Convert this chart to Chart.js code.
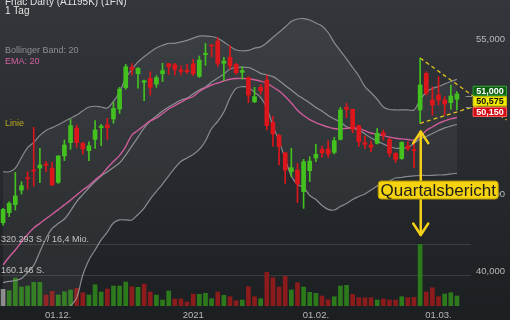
<!DOCTYPE html>
<html><head><meta charset="utf-8">
<script src="https://cdn.jsdelivr.net/npm/chart.js@4.4.1/dist/chart.umd.min.js"></script>
<style>html,body{margin:0;padding:0;background:#25282c;overflow:hidden}canvas{display:block}</style>
</head><body>
<canvas id="c" width="510" height="320"></canvas>
<script>
const dates = ['18.11.','19.11.','20.11.','23.11.','24.11.','25.11.','26.11.','27.11.','30.11.',
'01.12.','02.12.','03.12.','04.12.','07.12.','08.12.','09.12.','10.12.','11.12.','14.12.','15.12.','16.12.','17.12.','18.12.','21.12.','22.12.','23.12.','24.12.','28.12.','29.12.','30.12.','31.12.',
'04.01.','05.01.','06.01.','07.01.','08.01.','11.01.','12.01.','13.01.','14.01.','15.01.','18.01.','19.01.','20.01.','21.01.','22.01.','25.01.','26.01.','27.01.','28.01.','29.01.',
'01.02.','02.02.','03.02.','04.02.','05.02.','08.02.','09.02.','10.02.','11.02.','12.02.','15.02.','16.02.','17.02.','18.02.','19.02.','22.02.','23.02.','24.02.','25.02.','26.02.',
'01.03.','02.03.','03.03.','04.03.'];
const xTickIdx = [9, 31, 51, 71];
const xTickText = ['01.12.', '2021', '01.02.', '01.03.'];
const yTicks = [40, 45, 55];

const open  = [43.16,43.81,44.33,45.27,46.07,46.56,46.69,46.95,46.67,45.77,47.47,48.33,49.27,48.28,47.81,48.54,49.30,49.47,49.86,50.50,51.88,53.19,52.78,52.22,52.48,52.11,52.78,53.43,53.36,53.02,53.00,53.43,52.61,54.01,54.61,54.89,53.45,53.84,53.38,52.87,52.52,50.97,51.90,52.37,49.64,48.80,47.68,46.46,46.56,45.17,46.52,47.34,47.90,47.92,47.70,48.54,50.61,50.48,49.43,48.33,48.18,48.29,48.97,48.54,47.64,47.30,48.11,47.85,50.44,52.80,51.08,51.40,51.08,50.91,51.13];
const high  = [44.09,44.52,46.41,45.81,46.46,49.32,47.96,47.10,47.06,47.50,48.50,49.83,49.47,48.37,48.39,49.75,49.51,49.90,50.93,51.90,53.38,53.43,53.17,52.37,52.91,52.65,53.45,53.45,53.45,53.28,53.38,53.71,53.92,54.74,54.63,55.13,53.84,54.59,53.45,53.23,52.59,51.90,52.09,52.70,50.05,48.87,47.68,47.96,46.99,47.25,47.42,48.22,48.11,48.44,48.67,50.61,50.87,50.50,49.47,48.76,48.44,49.25,49.15,48.61,47.68,48.39,48.39,48.29,53.79,52.91,51.94,52.59,51.30,52.05,51.62];
const low   = [43.01,43.55,43.98,45.01,45.32,45.53,45.75,46.46,45.55,45.70,47.17,47.90,48.03,47.60,47.17,47.96,48.13,48.54,49.58,50.22,51.77,52.70,51.84,51.04,51.40,51.90,52.27,52.74,52.70,52.70,52.78,52.65,52.54,53.32,53.88,53.23,52.33,53.06,52.74,52.42,50.91,50.91,51.45,49.15,48.11,46.89,45.70,46.13,44.46,44.09,45.81,47.10,47.38,47.38,47.60,48.50,49.94,48.97,48.07,47.96,47.75,48.24,48.50,47.42,47.04,47.25,47.81,46.71,49.58,51.40,50.11,50.76,50.11,50.48,50.44];
const close = [44.02,44.41,44.89,45.55,46.00,46.50,46.89,46.87,45.60,47.47,48.18,49.43,48.33,47.92,48.13,49.15,49.40,49.30,50.54,51.79,53.23,53.06,53.13,52.33,51.90,52.52,52.98,53.23,53.06,52.93,52.92,52.78,53.66,54.09,54.57,53.45,53.60,53.28,52.85,52.98,51.40,51.30,51.68,49.43,48.89,48.07,46.56,46.71,45.66,47.10,47.14,47.58,47.68,47.60,48.46,50.44,50.48,49.19,48.39,48.22,48.03,48.93,48.82,47.64,47.25,48.35,47.96,47.81,52.05,51.51,50.76,51.08,50.82,51.34,51.47];
const volume = [86700,79400,145300,98600,103800,123000,123000,57100,76300,57100,74200,83100,91900,69000,57100,110600,72700,88200,103800,103800,124600,100200,97100,114200,72700,57100,31100,77900,36300,36300,20800,62300,60700,65900,37900,72700,55500,48300,27500,31100,100200,48300,37900,174900,146900,98600,154200,83100,121000,98600,71100,65900,51900,32700,48300,103800,107500,60700,43100,43100,43100,31100,36300,31100,31100,48300,43100,45200,320293,72700,95000,48300,62300,69000,51900];
const volDir = [0,1,1,1,1,1,1,-1,-1,1,1,1,-1,-1,1,1,1,-1,1,1,1,-1,1,-1,-1,1,1,1,-1,-1,-1,-1,1,1,1,-1,1,-1,-1,1,-1,-1,1,-1,-1,-1,-1,1,-1,1,1,1,-1,-1,1,1,1,-1,-1,-1,-1,1,-1,-1,-1,1,-1,-1,1,-1,-1,-1,1,1,1];
const bbUpper = [46.45,46.45,46.68,47.37,48.01,48.34,48.80,49.12,49.30,49.48,49.70,49.91,50.11,50.39,50.63,50.68,50.63,50.57,50.99,51.60,52.50,53.05,53.54,53.87,54.18,54.44,54.61,54.74,54.74,54.83,54.93,55.08,55.21,55.21,55.18,55.07,54.83,54.54,54.31,54.26,54.28,54.43,54.51,54.78,55.13,55.46,55.79,56.15,56.31,56.34,56.25,56.05,55.86,55.44,54.79,54.25,53.73,53.18,52.63,51.95,51.55,51.13,50.63,50.47,50.44,50.44,50.44,50.44,51.08,51.60,51.83,51.95,52.12,52.28,52.41];
const bbMid = [39.30,39.37,39.43,39.56,39.95,40.41,41.29,42.14,42.79,43.11,43.40,43.92,44.53,44.98,45.42,45.82,46.18,46.45,46.73,47.02,47.53,48.11,48.69,49.28,49.73,50.05,50.37,50.63,50.86,51.08,51.21,51.47,51.73,51.92,52.24,52.50,52.76,53.08,53.18,53.21,53.18,53.02,52.80,52.70,52.59,52.34,52.02,51.73,51.41,51.15,50.89,50.60,50.37,50.08,49.86,49.66,49.36,49.24,49.15,48.89,48.63,48.44,48.24,48.08,47.97,47.97,48.02,48.28,48.57,48.73,48.92,49.11,49.28,49.40,49.50];
const bbLower = [31.72,32.04,32.69,33.33,34.30,34.95,35.59,36.24,36.75,37.01,37.40,37.79,38.30,39.79,40.76,41.40,42.05,42.56,43.14,43.34,43.34,43.34,43.69,44.11,44.69,45.18,45.66,46.18,46.69,47.11,47.34,47.57,47.89,48.44,49.24,49.70,50.31,51.21,51.83,51.94,51.89,51.57,51.24,50.57,49.40,48.44,47.27,46.18,45.63,45.44,44.92,44.66,44.27,44.02,43.98,44.21,44.40,44.66,44.85,45.02,45.27,45.53,45.72,45.85,46.05,46.08,46.15,46.18,46.21,46.21,46.22,46.24,46.25,46.31,46.35];
const ema = [40.43,40.95,41.40,41.92,42.40,42.82,43.12,43.42,43.71,44.01,44.31,44.62,44.95,45.27,45.56,45.92,46.24,46.69,47.11,47.51,48.08,48.82,49.13,49.44,49.73,49.92,50.21,50.50,50.72,50.94,51.15,51.31,51.63,51.86,52.05,52.18,52.31,52.42,52.47,52.48,52.45,52.39,52.30,52.16,51.92,51.66,51.31,50.89,50.42,50.08,49.82,49.62,49.47,49.34,49.24,49.20,49.26,49.28,49.25,49.10,48.95,48.86,48.78,48.69,48.61,48.57,48.53,48.50,48.73,49.11,49.34,49.58,49.73,49.86,49.95];

const lastLabels = [51.000, 50.575, 50.150];
const volGrid = [320293, 160146];
const volGridText = ['320.293 S. / 16,4 Mio.', '160.146 S.'];
// triangle drawing: [index, price] pairs
const triTop = [[68, 53.79], [82.1, 49.79]];
const triBottom = [[68, 49.58], [82.1, 51.30]];
const quartal = {idx: 68, top: 49.04, bottom: 42.37, label: 45.27, text: 'Quartalsbericht'};

const GREEN = '#43c11f', RED = '#dc161b';
const VGREEN = '#2c7a1b', VRED = '#8c1b1c', VGRAY = '#8a8a8a';
const candleColors = close.map((c, i) => c >= open[i] ? GREEN : RED);
const volColors = volDir.map(d => d > 0 ? VGREEN : (d < 0 ? VRED : VGRAY));
const wicks = low.map((l, i) => [l, high[i]]);
const bodies = open.map((o, i) => [o, close[i]]);
const fmt = v => v.toFixed(3).replace('.', ',');

Chart.defaults.font.family = 'Arial, "Liberation Sans", sans-serif';

const deco = {
  id: 'deco',
  beforeDraw(chart) {
    const {ctx, width, height} = chart;
    const g = ctx.createLinearGradient(0, 0, 0, height);
    g.addColorStop(0, '#33373b');
    g.addColorStop(1, '#1c1f22');
    ctx.save(); ctx.fillStyle = g; ctx.fillRect(0, 0, width, height); ctx.restore();
  },
  beforeDatasetsDraw(chart) {
    const {ctx} = chart; const yv = chart.scales.yv;
    ctx.save();
    ctx.strokeStyle = 'rgba(255,255,255,0.12)'; ctx.lineWidth = 1;
    volGrid.forEach(v => {
      const y = Math.round(yv.getPixelForValue(v)) + 0.5;
      ctx.beginPath(); ctx.moveTo(0, y); ctx.lineTo(471, y); ctx.stroke();
    });
    ctx.restore();
  },
  afterDraw(chart) {
    const {ctx} = chart; const x = chart.scales.x, y = chart.scales.y, yv = chart.scales.yv;
    ctx.save();
    ctx.font = '9px Arial, "Liberation Sans", sans-serif';
    ctx.fillStyle = '#c4c4c4'; ctx.textBaseline = 'alphabetic'; ctx.textAlign = 'left';
    volGrid.forEach((v, k) => ctx.fillText(volGridText[k], 1, yv.getPixelForValue(v) - 2.5));
    ctx.font = '10px Arial, "Liberation Sans", sans-serif';
    ctx.fillStyle = '#e2e2e2';
    ctx.fillText('Fnac Darty (A1195K) (1FN)', 5, 5);
    ctx.fillText('1 Tag', 5, 14);
    ctx.font = '9px Arial, "Liberation Sans", sans-serif';
    ctx.fillStyle = '#8c8f92';
    ctx.fillText('Bollinger Band: 20', 5, 52.5);
    ctx.fillStyle = '#d4609e';
    ctx.fillText('EMA: 20', 5, 64);
    ctx.fillStyle = '#bba51c';
    ctx.fillText('Linie', 5, 125.5);
    // triangle
    ctx.strokeStyle = '#e3c31a'; ctx.lineWidth = 1.3; ctx.setLineDash([4, 3]);
    [triTop, triBottom].forEach(seg => {
      ctx.beginPath();
      ctx.moveTo(x.getPixelForValue(seg[0][0]), y.getPixelForValue(seg[0][1]));
      ctx.lineTo(x.getPixelForValue(seg[1][0]), y.getPixelForValue(seg[1][1]));
      ctx.stroke();
    });
    ctx.setLineDash([]);
    // Quartalsbericht arrow
    const ax = x.getPixelForValue(quartal.idx) + 0.6;
    const at = y.getPixelForValue(quartal.top), ab = y.getPixelForValue(quartal.bottom);
    ctx.strokeStyle = '#f4d116'; ctx.lineWidth = 2.5; ctx.lineCap = 'round'; ctx.lineJoin = 'round';
    ctx.beginPath(); ctx.moveTo(ax, at); ctx.lineTo(ax, ab); ctx.stroke();
    ctx.beginPath(); ctx.moveTo(ax - 7.5, at + 11.5); ctx.lineTo(ax, at); ctx.lineTo(ax + 7.5, at + 11.5); ctx.stroke();
    ctx.beginPath(); ctx.moveTo(ax - 7.5, ab - 11.5); ctx.lineTo(ax, ab); ctx.lineTo(ax + 7.5, ab - 11.5); ctx.stroke();
    const ly = y.getPixelForValue(quartal.label);
    const bx = ax - 42.5, bw = 120, bh = 18;
    ctx.fillStyle = '#f5d30f'; ctx.strokeStyle = '#b39500'; ctx.lineWidth = 1;
    ctx.beginPath(); ctx.roundRect(bx, ly - bh / 2, bw, bh, 3); ctx.fill(); ctx.stroke();
    ctx.fillStyle = '#1e1e1e'; ctx.font = '17px Arial, "Liberation Sans", sans-serif';
    ctx.textAlign = 'center'; ctx.textBaseline = 'middle';
    ctx.fillText(quartal.text, bx + bw / 2, ly + 1);
    // price label boxes (stacked)
    const styles = [['#0d5e10', '#3aa23a', '#ffffff'], ['#f2ea00', '#c9c000', '#111111'], ['#cf0d16', '#ff5a5a', '#ffffff']];
    const y0 = y.getPixelForValue(lastLabels[0]) - 10.5;
    ctx.font = 'bold 9px Arial, "Liberation Sans", sans-serif';
    ctx.strokeStyle = '#8a8a8a'; ctx.lineWidth = 1;
    [0, 1].forEach(k => { const yy = Math.round(y0 + 5.5 + k * 10.5) + 0.5; ctx.beginPath(); ctx.moveTo(466, yy); ctx.lineTo(472, yy); ctx.stroke(); });
    lastLabels.forEach((v, k) => {
      const cy = y0 + k * 10.6;
      ctx.fillStyle = styles[k][0]; ctx.strokeStyle = styles[k][1];
      ctx.fillRect(473, cy - 5, 34, 10); ctx.strokeRect(473.5, cy - 4.5, 33, 9);
      ctx.fillStyle = styles[k][2]; ctx.textAlign = 'center'; ctx.textBaseline = 'middle';
      ctx.fillText(fmt(v), 490, cy + 0.5);
    });
    ctx.restore();
  }
};

new Chart(document.getElementById('c'), {
  type: 'bar',
  data: {
    labels: dates,
    datasets: [
      {type: 'line', data: bbUpper, borderColor: 'rgba(150,153,157,0.85)', borderWidth: 1.2, pointRadius: 0, tension: 0.35, fill: 2, backgroundColor: 'rgba(255,255,255,0.05)', order: 5},
      {type: 'line', data: bbMid, borderColor: 'rgba(150,153,157,0.85)', borderWidth: 1.2, pointRadius: 0, tension: 0.35, fill: false, order: 5},
      {type: 'line', data: bbLower, borderColor: 'rgba(150,153,157,0.85)', borderWidth: 1.2, pointRadius: 0, tension: 0.35, fill: false, order: 5},
      {type: 'line', data: ema, borderColor: '#cf5c9b', borderWidth: 1.4, pointRadius: 0, tension: 0.35, fill: false, order: 4},
      {type: 'bar', data: volume, yAxisID: 'yv', backgroundColor: volColors, barThickness: 4, grouped: false, order: 6},
      {type: 'bar', data: wicks, backgroundColor: candleColors, barThickness: 1, grouped: false, order: 2},
      {type: 'bar', data: bodies, backgroundColor: candleColors, barThickness: 4, grouped: false, minBarLength: 1, order: 1}
    ]
  },
  options: {
    responsive: false, animation: false, devicePixelRatio: 1,
    layout: {padding: 0},
    plugins: {legend: {display: false}, tooltip: {enabled: false}},
    scales: {
      x: {
        offset: true, grid: {display: false, drawTicks: false}, border: {display: false},
        ticks: {autoSkip: false, maxRotation: 0, padding: 4, color: '#b8b8b8', font: {size: 9.5},
          callback: (v, i) => { const k = xTickIdx.indexOf(i); return k >= 0 ? xTickText[k] : ''; }},
        afterFit: s => { s.height = 14; s.paddingLeft = 0; s.paddingRight = 0; }
      },
      y: {
        position: 'right', min: 37.786, max: 57.537,
        grid: {display: false, drawTicks: false}, border: {display: false},
        ticks: {padding: 16, color: '#b8b8b8', font: {size: 9.5}, callback: v => fmt(v)},
        afterBuildTicks: s => { s.ticks = yTicks.map(v => ({value: v})); },
        afterFit: s => { s.width = 50; s.paddingTop = 0; s.paddingBottom = 0; }
      },
      yv: {display: false, min: 0, max: 1590000}
    }
  },
  plugins: [deco]
});
</script>
</body></html>
